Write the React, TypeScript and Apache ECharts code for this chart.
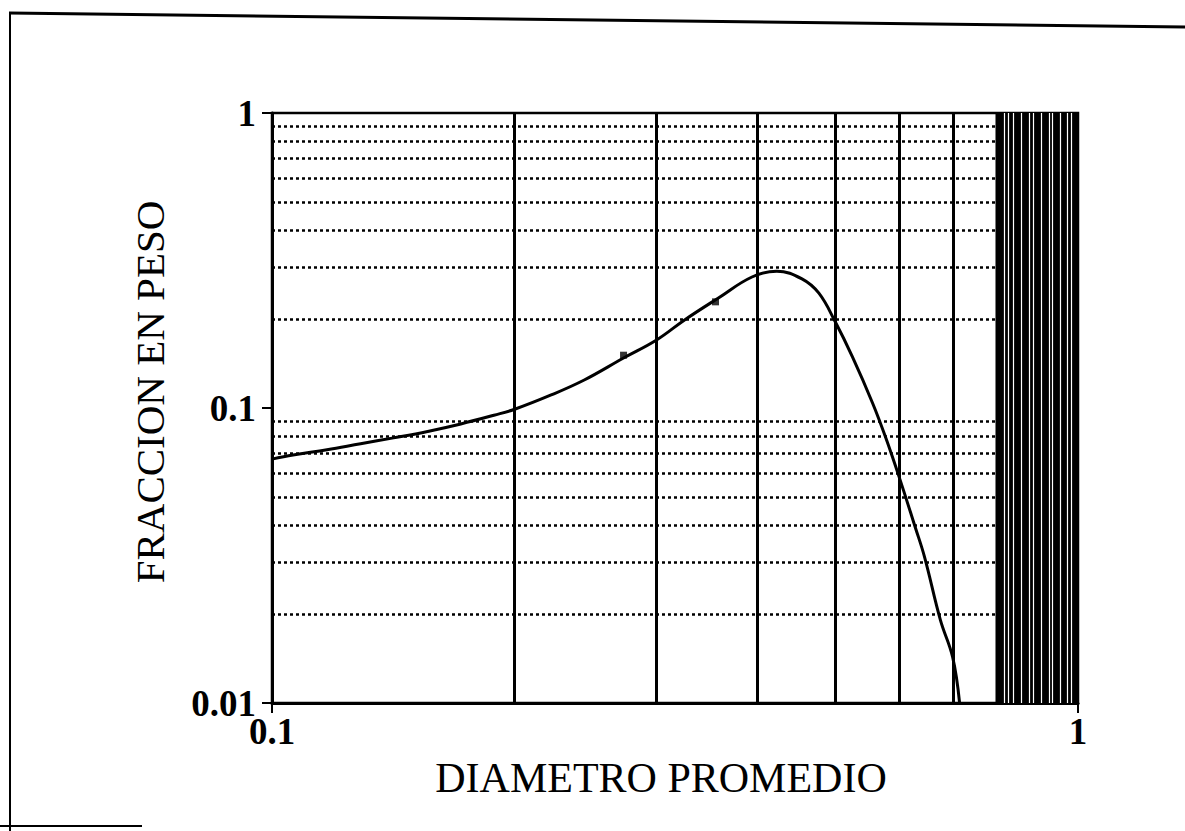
import React, { useEffect, useRef } from "react";
import * as echarts from "echarts";

// Curve (x: diametro promedio, y: fraccion en peso)
const curveX = [0.1, 0.1062, 0.117, 0.1288, 0.1415, 0.156, 0.1715, 0.1885, 0.2, 0.222, 0.244, 0.273, 0.3, 0.325, 0.358, 0.394, 0.423, 0.4545, 0.477, 0.5, 0.525, 0.556, 0.577, 0.6, 0.628, 0.645, 0.675, 0.699, 0.713];
const curveY = [0.0671, 0.0693, 0.0722, 0.0757, 0.0792, 0.0833, 0.0883, 0.0945, 0.099, 0.1107, 0.1244, 0.1477, 0.17, 0.1988, 0.236, 0.278, 0.291, 0.274, 0.245, 0.1956, 0.149, 0.104, 0.0797, 0.0583, 0.0395, 0.0313, 0.0191, 0.0143, 0.01];

// Measured points (small squares)
const pointX = [0.273, 0.355];
const pointY = [0.151, 0.229];

// Grid lines
const vGridX = [0.2, 0.3, 0.4, 0.5, 0.6, 0.7];
const hGridY = [0.02, 0.03, 0.04, 0.05, 0.06, 0.07, 0.08, 0.09, 0.2, 0.3, 0.4, 0.5, 0.6, 0.7, 0.8, 0.9];
// dense band of lines between 0.79 and 1 (drawn dark with thin light gaps)
const bandStart = 0.79;
const bandEnd = 1.0;
const bandGapX = [0.806, 0.818, 0.834, 0.848, 0.867, 0.881, 0.897, 0.918, 0.931, 0.952, 0.968, 0.984];

const xTickLabels: Record<string, string> = { "-1": "0.1", "0": "1" };
const yTickLabels: Record<string, string> = { "-2": "0.01", "-1": "0.1", "0": "1" };

const FONT = "Liberation Serif";

export default function App() {
  const ref = useRef<HTMLDivElement>(null);
  useEffect(() => {
    if (!ref.current) return;
    const chart = echarts.init(ref.current, undefined, { renderer: "svg" });
    const curve = curveX.map((x, i) => [x, curveY[i]]);
    const pts = pointX.map((x, i) => [x, pointY[i]]);
    chart.setOption({
      animation: false,
      backgroundColor: "#ffffff",
      grid: { left: 272, right: 107, top: 113, bottom: 128, show: true, borderColor: "#000", borderWidth: 2.5 },
      xAxis: {
        type: "log",
        logBase: 10,
        min: 0.1,
        max: 1,
        name: "DIAMETRO PROMEDIO",
        nameLocation: "middle",
        nameGap: 54,
        nameTextStyle: { fontFamily: FONT, fontSize: 42, color: "#000", padding: [0, 28, 0, 0] },
        axisLine: { lineStyle: { color: "#000", width: 3 } },
        axisTick: { show: true, length: 10, lineStyle: { color: "#000", width: 2 } },
        axisLabel: {
          margin: 10,
          fontFamily: FONT,
          fontWeight: "bold",
          fontSize: 37,
          color: "#000",
          formatter: (v: number) => xTickLabels[String(Math.round(Math.log10(v)))] ?? "",
        },
        splitLine: { show: false },
      },
      yAxis: {
        type: "log",
        logBase: 10,
        min: 0.01,
        max: 1,
        name: "FRACCION EN PESO",
        nameLocation: "middle",
        nameGap: 102,
        nameTextStyle: { fontFamily: FONT, fontSize: 41, color: "#000", padding: [0, 0, 0, 32] },
        axisLine: { lineStyle: { color: "#000", width: 3 } },
        axisTick: { show: true, length: 10, lineStyle: { color: "#000", width: 2 } },
        axisLabel: {
          margin: 16,
          fontFamily: FONT,
          fontWeight: "bold",
          fontSize: 37,
          color: "#000",
          formatter: (v: number) => yTickLabels[String(Math.round(Math.log10(v)))] ?? "",
        },
        splitLine: { show: false },
      },
      series: [
        {
          type: "line",
          name: "grid-h",
          data: [],
          silent: true,
          z: 1,
          markLine: {
            silent: true,
            symbol: "none",
            label: { show: false },
            lineStyle: { color: "#000", type: [3, 3], width: 2.6, opacity: 1 },
            data: hGridY.map((y) => ({ yAxis: y })),
          },
        },
        {
          type: "line",
          name: "grid-v",
          data: [],
          silent: true,
          z: 2,
          markLine: {
            silent: true,
            symbol: "none",
            label: { show: false },
            lineStyle: { color: "#000", type: "solid", width: 3, opacity: 1 },
            data: vGridX.map((x) => ({ xAxis: x })),
          },
        },
        {
          type: "line",
          name: "band",
          data: [],
          silent: true,
          z: 3,
          markArea: {
            silent: true,
            label: { show: false },
            itemStyle: { color: "#000", opacity: 1 },
            data: [[{ xAxis: bandStart }, { xAxis: bandEnd }]],
          },
        },
        {
          type: "line",
          name: "band-gaps",
          data: [],
          silent: true,
          z: 4,
          markLine: {
            silent: true,
            symbol: "none",
            label: { show: false },
            lineStyle: { color: "#fff", type: "solid", width: 1.2, opacity: 1 },
            data: bandGapX.map((x) => ({ xAxis: x })),
          },
        },
        {
          type: "line",
          name: "curve",
          data: curve,
          smooth: 0.4,
          showSymbol: false,
          z: 5,
          lineStyle: { color: "#000", width: 3 },
        },
        {
          type: "scatter",
          name: "points",
          data: pts,
          symbol: "rect",
          symbolSize: 7,
          z: 6,
          itemStyle: { color: "#000" },
        },
      ],
      graphic: [
        { type: "line", shape: { x1: 9, y1: 13, x2: 1185, y2: 27 }, style: { stroke: "#000", lineWidth: 3 } },
        { type: "line", shape: { x1: 10, y1: 12, x2: 10, y2: 831 }, style: { stroke: "#000", lineWidth: 2 } },
        { type: "line", shape: { x1: 0, y1: 826, x2: 142, y2: 826 }, style: { stroke: "#000", lineWidth: 2 } },
      ],
    });
    return () => chart.dispose();
  }, []);
  return <div ref={ref} style={{ position: "fixed", left: 0, top: 0, width: 1185, height: 831, background: "#fff" }} />;
}
